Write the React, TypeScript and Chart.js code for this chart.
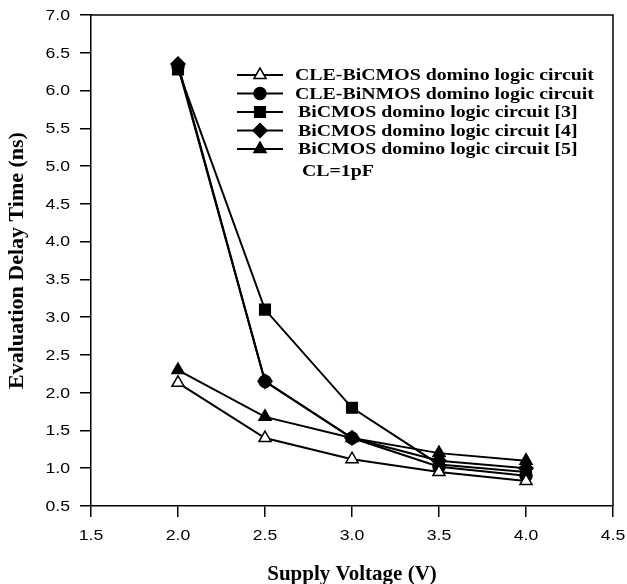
import React, { useEffect, useRef } from 'react';
import { Chart, registerables } from 'chart.js';
import { drawPoint } from 'chart.js/helpers';

Chart.register(...registerables);

const voltages = [2.0, 2.5, 3.0, 3.5, 4.0];
const cleBiCMOS = [2.13, 1.40, 1.12, 0.95, 0.83];
const cleBiNMOS = [6.32, 2.15, 1.40, 1.02, 0.90];
const bicmos3 = [6.28, 3.10, 1.80, 1.05, 0.95];
const bicmos4 = [6.35, 2.15, 1.40, 1.10, 1.00];
const bicmos5 = [2.30, 1.68, 1.40, 1.20, 1.10];

const seriesLabels = [
  'CLE-BiCMOS domino logic circuit',
  'CLE-BiNMOS domino logic circuit',
  'BiCMOS domino logic circuit [3]',
  'BiCMOS domino logic circuit [4]',
  'BiCMOS domino logic circuit [5]',
];
const noteText = 'CL=1pF';
const xTitle = 'Supply Voltage (V)';
const yTitle = 'Evaluation Delay Time (ns)';
const xMin = 1.5, xMax = 4.5, xStep = 0.5;
const yMin = 0.5, yMax = 7.0, yStep = 0.5;

const SERIF = '"Liberation Serif", "Times New Roman", serif';
const SANS = '"Liberation Sans", Arial, sans-serif';
const STRETCH = 1.26;

const styles = [
  { pointStyle: 'triangle', fill: '#ffffff', radius: 7 },
  { pointStyle: 'circle', fill: '#000000', radius: 6 },
  { pointStyle: 'rect', fill: '#000000', radius: 7.5 },
  { pointStyle: 'rectRot', fill: '#000000', radius: 7 },
  { pointStyle: 'triangle', fill: '#000000', radius: 7 },
];

function stretchedText(ctx: any, text: string, x: number, y: number, align: CanvasTextAlign, sx: number) {
  ctx.save();
  ctx.translate(x, y);
  ctx.scale(sx, 1);
  ctx.textAlign = align;
  ctx.textBaseline = 'middle';
  ctx.fillText(text, 0, 0);
  ctx.restore();
}

const framePlugin = {
  id: 'frame',
  afterDraw(chart: any) {
    const { ctx, chartArea } = chart;
    ctx.save();
    ctx.strokeStyle = '#000';
    ctx.lineWidth = 1.5;
    ctx.beginPath();
    ctx.moveTo(chartArea.left, chartArea.top);
    ctx.lineTo(chartArea.right, chartArea.top);
    ctx.lineTo(chartArea.right, chartArea.bottom);
    ctx.stroke();
    ctx.restore();
  },
};

const tickLabelPlugin = {
  id: 'tickLabels',
  afterDraw(chart: any) {
    const { ctx, scales } = chart;
    ctx.save();
    ctx.fillStyle = '#000';
    ctx.font = '14px ' + SANS;
    const xs = scales.x;
    xs.ticks.forEach((t: any) => {
      const px = xs.getPixelForValue(t.value);
      stretchedText(ctx, Number(t.value).toFixed(1), px, 536, 'center', STRETCH);
    });
    const ys = scales.y;
    ys.ticks.forEach((t: any) => {
      const py = ys.getPixelForValue(t.value);
      stretchedText(ctx, Number(t.value).toFixed(1), 70, py + 1, 'right', STRETCH);
    });
    ctx.restore();
  },
};

const legendPlugin = {
  id: 'insideLegend',
  afterDraw(chart: any) {
    const { ctx } = chart;
    const x0 = 237, x1 = 283, xm = 260;
    const textX = [295, 295, 298, 298, 298];
    const rowY = [75, 93.5, 112, 130.5, 149];
    ctx.save();
    chart.data.datasets.forEach((ds: any, i: number) => {
      const y = rowY[i];
      ctx.strokeStyle = '#000';
      ctx.lineWidth = 2;
      ctx.beginPath();
      ctx.moveTo(x0, y);
      ctx.lineTo(x1, y);
      ctx.stroke();
      ctx.fillStyle = ds.pointBackgroundColor;
      ctx.strokeStyle = '#000';
      ctx.lineWidth = 1.5;
      drawPoint(ctx, { pointStyle: ds.pointStyle, rotation: 0, radius: ds.pointRadius, borderWidth: 1.5 }, xm, y);
      ctx.fillStyle = '#000';
      ctx.font = 'bold 16px ' + SERIF;
      stretchedText(ctx, ds.label, textX[i], y + 1, 'left', 1.24);
    });
    ctx.fillStyle = '#000';
    ctx.font = 'bold 16px ' + SERIF;
    stretchedText(ctx, noteText, 302, 172, 'left', 1.24);
    ctx.restore();
  },
};

export default function App() {
  const ref = useRef<HTMLCanvasElement | null>(null);
  useEffect(() => {
    if (!ref.current) return;
    const series = [cleBiCMOS, cleBiNMOS, bicmos3, bicmos4, bicmos5];
    const chart = new Chart(ref.current, {
      type: 'line',
      data: {
        datasets: series.map((vals, i) => ({
          label: seriesLabels[i],
          data: voltages.map((v, j) => ({ x: v, y: vals[j] })),
          borderColor: '#000',
          borderWidth: 2,
          pointStyle: styles[i].pointStyle as any,
          pointRadius: styles[i].radius,
          pointBackgroundColor: styles[i].fill,
          pointBorderColor: '#000',
          pointBorderWidth: 1.5,
          tension: 0,
          fill: false,
        })),
      },
      options: {
        animation: false,
        responsive: false,
        devicePixelRatio: 1,
        layout: { padding: { left: 0, top: 15, right: 14, bottom: 0 } },
        plugins: { legend: { display: false }, tooltip: { enabled: false } },
        scales: {
          x: {
            type: 'linear',
            min: xMin,
            max: xMax,
            afterFit: (s: any) => { s.height = 78; },
            ticks: { stepSize: xStep, display: false },
            grid: { drawOnChartArea: false, drawTicks: true, tickLength: 11, color: '#000', lineWidth: 1.5 },
            border: { display: true, color: '#000', width: 1.5 },
            title: {
              display: true,
              text: xTitle,
              color: '#000',
              font: { family: SERIF, size: 21, weight: 'bold', lineHeight: 0.9 },
              padding: { top: 0, bottom: 0 },
            },
          },
          y: {
            type: 'linear',
            min: yMin,
            max: yMax,
            afterFit: (s: any) => { s.width = 91; },
            ticks: { stepSize: yStep, display: false },
            grid: { drawOnChartArea: false, drawTicks: true, tickLength: 11, color: '#000', lineWidth: 1.5 },
            border: { display: true, color: '#000', width: 1.5 },
            title: {
              display: true,
              text: yTitle,
              color: '#000',
              font: { family: SERIF, size: 22, weight: 'bold', lineHeight: 1.2 },
              padding: { top: 4, bottom: 0 },
            },
          },
        },
      },
      plugins: [framePlugin, tickLabelPlugin, legendPlugin],
    });
    return () => chart.destroy();
  }, []);
  return (
    <div style={{ position: 'absolute', left: 0, top: 0, width: 627, height: 584, background: '#fff' }}>
      <canvas ref={ref} width={627} height={584} />
    </div>
  );
}
